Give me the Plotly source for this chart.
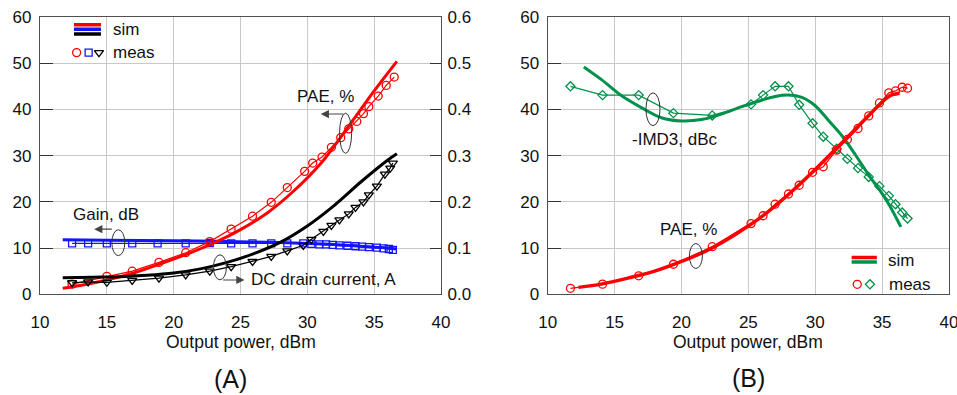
import plotly.graph_objects as go

# ---------------- Panel A data ----------------
pae_a_meas_x = [12.4, 15.0, 16.9, 18.9, 20.9, 22.7, 24.3, 25.9, 27.3, 28.5, 29.8, 30.4, 31.1, 31.8, 32.5, 33.1, 33.7, 34.2, 34.6, 35.3, 35.9, 36.5]
pae_a_meas_y = [2.2, 3.9, 5.0, 6.9, 9.0, 11.4, 14.1, 16.9, 19.9, 23.1, 26.6, 28.4, 29.7, 31.8, 33.9, 35.8, 37.4, 39.1, 40.6, 42.9, 45.2, 47.0]
pae_a_sim_x = [11.7, 13, 15, 17, 19, 21, 23, 25, 27, 29, 31, 33, 35, 36.7]
pae_a_sim_y = [1.3, 1.9, 3.1, 4.6, 6.6, 8.7, 11.1, 14.0, 17.6, 22.4, 28.3, 36.0, 44.0, 50.4]

gain_meas_x = [12.4, 13.6, 15.0, 16.9, 18.8, 20.9, 22.7, 24.3, 25.9, 27.3, 28.5, 29.7, 30.3, 30.9, 31.4, 31.9, 32.4, 33.0, 33.6, 34.1, 34.6, 35.2, 35.7, 36.1, 36.4]
gain_meas_y = [11.0, 11.0, 11.0, 11.0, 11.0, 11.0, 11.1, 11.0, 11.0, 11.0, 11.0, 11.0, 10.9, 10.8, 10.8, 10.7, 10.6, 10.5, 10.4, 10.3, 10.2, 10.1, 9.95, 9.8, 9.6]
gain_sim_x = [11.7, 15, 20, 24, 28, 30, 32, 34, 36, 36.7]
gain_sim_y = [11.8, 11.7, 11.6, 11.4, 11.2, 11.0, 10.8, 10.4, 10.0, 9.8]

curr_meas_x = [12.4, 13.6, 15.0, 16.9, 18.9, 20.9, 22.7, 24.3, 25.9, 27.3, 28.5, 29.7, 30.3, 31.2, 31.8, 32.4, 33.1, 33.6, 34.2, 34.6, 35.2, 35.8, 36.2, 36.4]
curr_meas_y = [0.025, 0.027, 0.026, 0.030, 0.035, 0.042, 0.050, 0.060, 0.071, 0.082, 0.094, 0.106, 0.119, 0.136, 0.149, 0.161, 0.174, 0.188, 0.200, 0.215, 0.234, 0.260, 0.273, 0.284]
curr_sim_x = [11.7, 14, 16, 18, 20, 22, 24, 26, 28, 30, 32, 34, 36, 36.7]
curr_sim_y = [0.036, 0.037, 0.038, 0.041, 0.046, 0.055, 0.069, 0.088, 0.113, 0.148, 0.192, 0.243, 0.290, 0.304]

# ---------------- Panel B data ----------------
b_meas_x = [11.7, 14.1, 16.8, 19.4, 22.3, 25.2, 26.1, 27.0, 28.0, 28.8, 29.8, 30.6, 31.6, 32.4, 33.2, 34.0, 34.8, 35.5, 36.0, 36.5, 36.9]
pae_b_meas_y = [1.3, 2.2, 4.0, 6.5, 10.3, 15.3, 17.0, 19.5, 21.7, 23.6, 26.4, 27.6, 31.2, 33.5, 35.9, 38.6, 41.4, 43.6, 44.0, 44.8, 44.6]
imd_b_meas_y = [45.0, 43.1, 43.1, 39.2, 38.7, 41.1, 43.1, 45.0, 45.0, 41.0, 37.0, 34.1, 31.5, 29.3, 27.3, 25.4, 23.4, 21.3, 19.5, 17.7, 16.4]
pae_b_sim_x = [12.3, 14, 16, 18, 20, 22, 24, 26, 28, 30, 32, 34, 35, 35.6, 36.3]
pae_b_sim_y = [1.5, 2.2, 3.5, 5.0, 7.1, 9.6, 12.9, 16.8, 21.6, 27.0, 32.8, 38.7, 41.6, 43.0, 43.5]
imd_b_sim_x = [12.7, 14, 15.5, 17, 18.5, 20, 21.5, 23, 24.5, 26, 27, 28, 29, 30, 31, 32, 33, 34, 35, 35.6, 36.4]
imd_b_sim_y = [49.2, 46.5, 43.0, 40.4, 38.2, 37.5, 37.8, 39.0, 40.6, 42.0, 42.8, 43.1, 42.6, 40.8, 37.6, 34.3, 30.2, 25.8, 21.8, 19.0, 14.6]

x_ticks = [10, 15, 20, 25, 30, 35, 40]
y_ticks = [0, 10, 20, 30, 40, 50, 60]
y2_ticks = [0.0, 0.1, 0.2, 0.3, 0.4, 0.5, 0.6]

RED = "#ff0000"
BLUE = "#1414ff"
BLACK = "#000000"
GREEN = "#00914b"
GRID = "#c8c8c8"
FRAME = "#505050"
FONT = "Liberation Sans, Arial, sans-serif"
W, H = 957, 395

fig = go.Figure()

def sim(x, y, color, xa, ya, width=3):
    fig.add_trace(go.Scatter(x=x, y=y, mode="lines", xaxis=xa, yaxis=ya,
                             line=dict(color=color, width=width, shape="spline", smoothing=0.9),
                             showlegend=False, hoverinfo="skip"))

def meas(x, y, color, symbol, xa, ya, size=8):
    fig.add_trace(go.Scatter(x=x, y=y, mode="lines+markers", xaxis=xa, yaxis=ya,
                             line=dict(color=color, width=1.2),
                             marker=dict(symbol=symbol, size=size, color=color,
                                         line=dict(color=color, width=1.3)),
                             showlegend=False, hoverinfo="skip"))

# Panel A
sim(gain_sim_x, gain_sim_y, BLUE, "x", "y")
meas(gain_meas_x, gain_meas_y, BLUE, "square-open", "x", "y", 7)
sim(curr_sim_x, curr_sim_y, BLACK, "x", "y2")
meas(curr_meas_x, curr_meas_y, BLACK, "triangle-down-open", "x", "y2", 8)
sim(pae_a_sim_x, pae_a_sim_y, RED, "x", "y")
meas(pae_a_meas_x, pae_a_meas_y, RED, "circle-open", "x", "y", 8)

# Panel B
sim(imd_b_sim_x, imd_b_sim_y, GREEN, "x2", "y3")
meas(b_meas_x, imd_b_meas_y, GREEN, "diamond-open", "x2", "y3", 7)
sim(pae_b_sim_x, pae_b_sim_y, RED, "x2", "y3", 3.5)
meas(b_meas_x, pae_b_meas_y, RED, "circle-open", "x2", "y3", 8)

# legend glyph markers (decoration)
def glyph(x, y, sym, size, color, xa, ya):
    fig.add_trace(go.Scatter(x=[x], y=[y], mode="markers", xaxis=xa, yaxis=ya,
                             marker=dict(symbol=sym, size=size, color=color, line=dict(width=1.3, color=color)),
                             showlegend=False, hoverinfo="skip"))
glyph(12.74, 52.3, "circle-open", 8, RED, "x", "y")
glyph(13.64, 52.3, "square-open", 7, BLUE, "x", "y")
glyph(14.41, 52.3, "triangle-down-open", 8, BLACK, "x", "y")
glyph(33.14, 2.16, "circle-open", 8, RED, "x2", "y3")
glyph(34.09, 2.16, "diamond-open", 7, GREEN, "x2", "y3")

shapes = []
# legend lines
for yv, c in [(58.3, RED), (57.35, BLUE), (56.3, BLACK)]:
    shapes.append(dict(type="line", xref="x", yref="y", x0=12.54, x1=14.56, y0=yv, y1=yv,
                       line=dict(color=c, width=3.5)))
for yv, c in [(7.95, RED), (7.0, GREEN)]:
    shapes.append(dict(type="line", xref="x2", yref="y3", x0=32.72, x1=34.61, y0=yv, y1=yv,
                       line=dict(color=c, width=3.5)))
# ellipses
def ell(xr, yr, cx, cy, w, h):
    shapes.append(dict(type="circle", xref=xr, yref=yr, x0=cx - w / 2, x1=cx + w / 2,
                       y0=cy - h / 2, y1=cy + h / 2, line=dict(color="#333333", width=1)))
ell("x", "y", 32.86, 34.85, 0.9, 8.7)
ell("x", "y", 15.86, 11.17, 0.97, 5.6)
ell("x", "y", 23.46, 5.84, 0.97, 5.4)
ell("x2", "y3", 17.87, 40.04, 1.05, 7.1)
ell("x2", "y3", 21.08, 8.29, 0.97, 5.4)

ann = []
def text(xr, yr, x, y, t, xanchor="center", size=17):
    ann.append(dict(xref=xr, yref=yr, x=x, y=y, text=t, showarrow=False, xanchor=xanchor,
                    yanchor="middle", font=dict(size=size, color="#111111", family=FONT)))
def arrow(xr, yr, x_from, y_from, x_to, y_to):
    ann.append(dict(xref=xr, yref=yr, axref=xr, ayref=yr, x=x_to, y=y_to, ax=x_from, ay=y_from,
                    text="", showarrow=True, arrowhead=2, arrowsize=1.5, arrowwidth=1.1,
                    arrowcolor="#444444"))

text("x", "y", 31.39, 42.9, "PAE, %")
arrow("x", "y", 32.81, 39.0, 31.0, 39.0)
text("x", "y", 14.9, 17.3, "Gain, dB")
arrow("x", "y", 15.48, 14.1, 14.05, 14.1)
text("x", "y", 25.6, 3.1, "DC drain current, A", xanchor="left")
arrow("x", "y", 23.59, 3.1, 25.3, 3.1)
text("x", "y", 15.31, 57.4, "sim", xanchor="left")
text("x", "y", 15.31, 52.3, "meas", xanchor="left")

text("x2", "y3", 19.51, 33.4, "-IMD3, dBc")
text("x2", "y3", 20.52, 14.1, "PAE, %")
text("x2", "y3", 35.28, 7.4, "sim", xanchor="left")
text("x2", "y3", 35.35, 2.16, "meas", xanchor="left")

text("paper", "paper", 240.5 / W, 1 - 342 / H, "Output power, dBm", size=17.5)
text("paper", "paper", 748 / W, 1 - 342 / H, "Output power, dBm", size=17.5)
text("paper", "paper", 230 / W, 1 - 379 / H, "(A)", size=25)
text("paper", "paper", 748 / W, 1 - 378 / H, "(B)", size=25)

ydom = [1 - 294.3 / H, 1 - 17 / H]
TICKFONT = dict(size=17, color="#111111", family=FONT)
common_x = dict(range=[10, 40], tickvals=x_ticks, showgrid=True, gridcolor=GRID, gridwidth=1,
                showline=True, linecolor=FRAME, linewidth=1.3, mirror=True, ticks="",
                zeroline=False, tickfont=TICKFONT, automargin=False, ticklabeloverflow="allow",
                ticklabelstandoff=12, fixedrange=True)
common_y = dict(range=[0, 60], tickvals=y_ticks, showgrid=True, gridcolor=GRID, gridwidth=1,
                showline=True, linecolor=FRAME, linewidth=1.3, mirror=True, ticks="inside",
                ticklen=13, tickcolor="#333333", tickwidth=1.2, zeroline=False,
                tickfont=TICKFONT, ticklabelstandoff=4, automargin=False,
                domain=ydom, fixedrange=True)

fig.update_layout(
    width=W, height=H,
    margin=dict(l=0, r=0, t=0, b=0, autoexpand=False),
    paper_bgcolor="white", plot_bgcolor="white",
    font=dict(family=FONT, size=16, color="#111111"),
    showlegend=False,
    xaxis=dict(domain=[40 / W, 441 / W], anchor="y", **common_x),
    yaxis=dict(anchor="x", **common_y),
    yaxis2=dict(overlaying="y", side="right", anchor="x", range=[0, 0.6], tickvals=y2_ticks,
                tickformat=".1f", showgrid=False, showline=True, linecolor=FRAME, linewidth=1.3,
                ticks="inside", ticklen=11, tickcolor="#333333", tickwidth=1.2, zeroline=False,
                tickfont=TICKFONT, ticklabelstandoff=2, automargin=False, fixedrange=True),
    xaxis2=dict(domain=[547.7 / W, 949 / W], anchor="y3", **common_x),
    yaxis3=dict(anchor="x2", **common_y),
    shapes=shapes,
    annotations=ann,
)

fig.write_html("out.html", config={"displayModeBar": False},
               post_script="document.body.style.margin='0';document.body.style.overflow='hidden';")
